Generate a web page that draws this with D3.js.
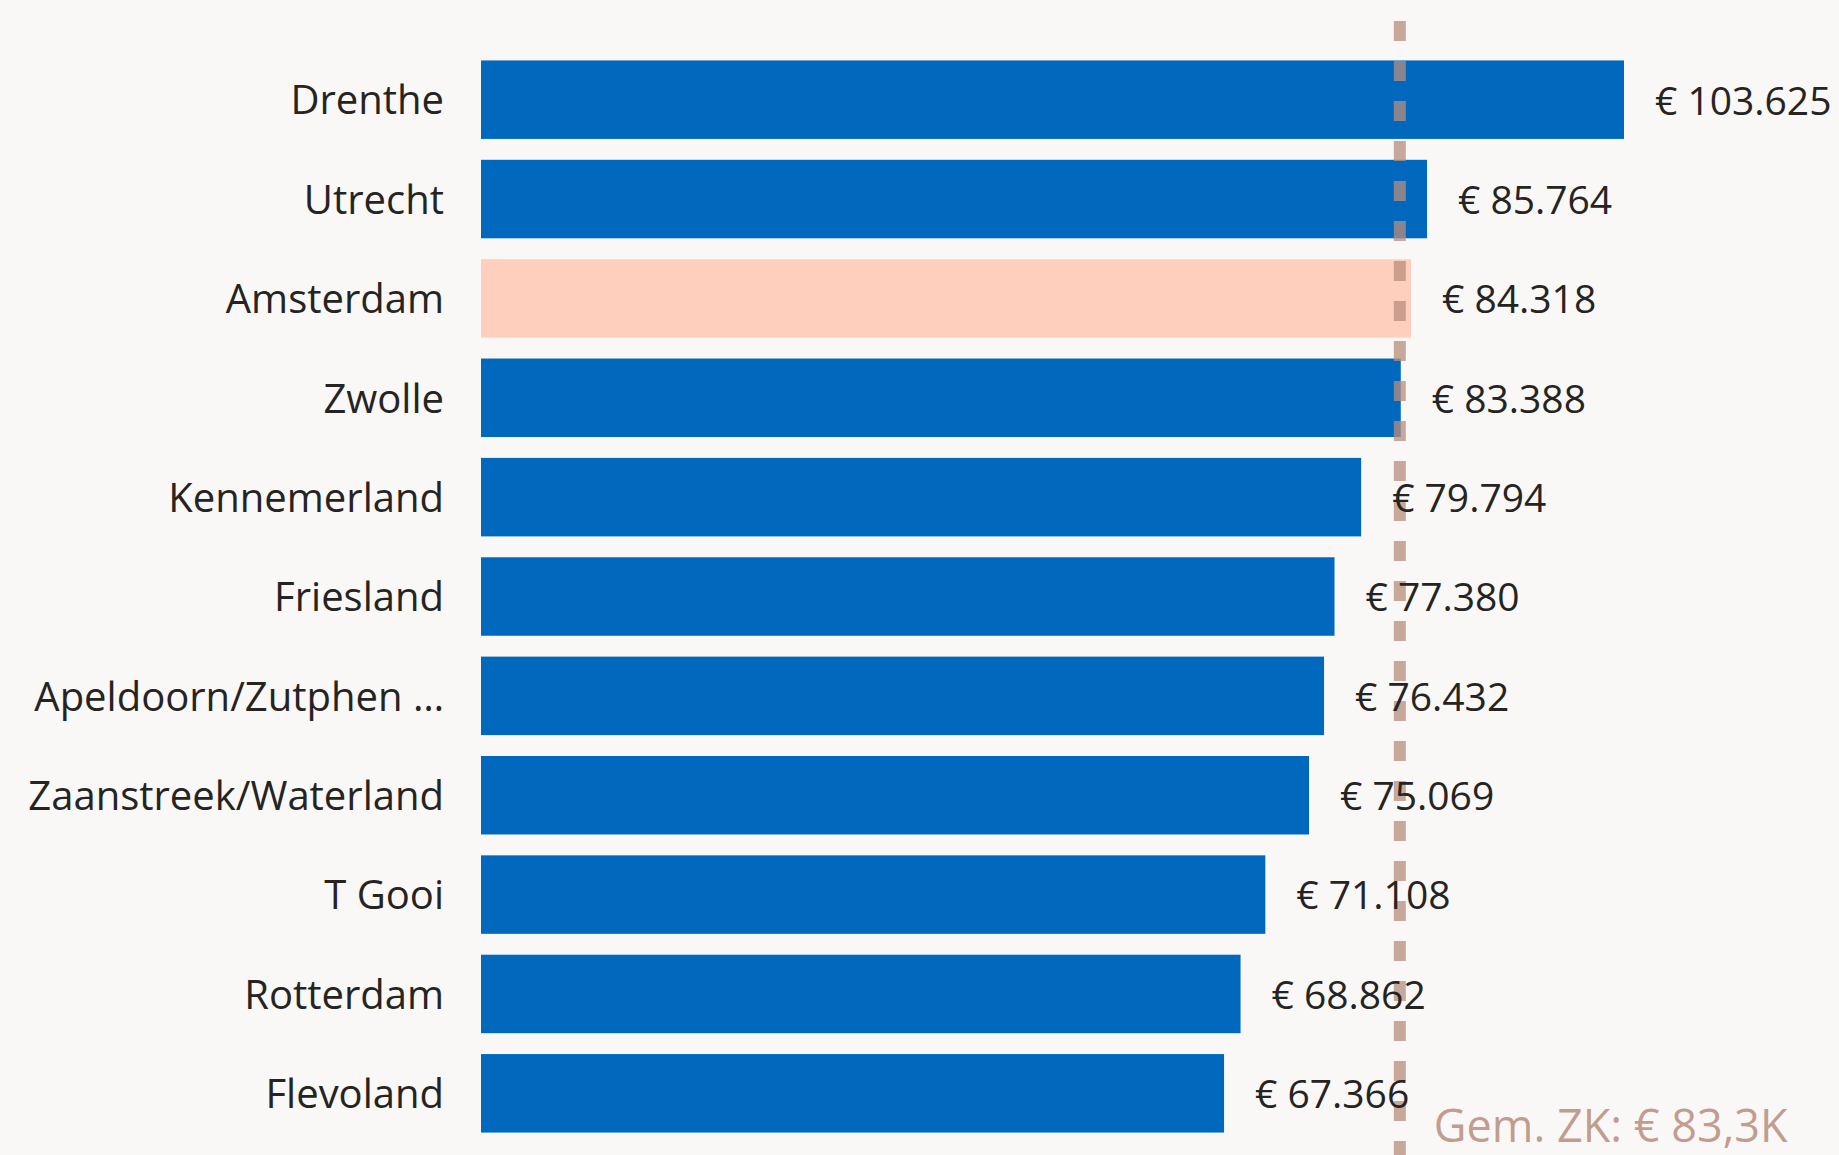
<!DOCTYPE html>
<html>
<head>
<meta charset="utf-8">
<script src="https://cdn.jsdelivr.net/npm/d3@7"></script>
<style>
  body { margin: 0; background: #f9f8f6; }
  svg { display: block; }
</style>
</head>
<body>
<script>
  const regios = ['Drenthe', 'Utrecht', 'Amsterdam', 'Zwolle', 'Kennemerland', 'Friesland',
    'Apeldoorn/Zutphen …', 'Zaanstreek/Waterland', 'T Gooi', 'Rotterdam', 'Flevoland'];
  const bedragen = [103625, 85764, 84318, 83388, 79794, 77380, 76432, 75069, 71108, 68862, 67366];
  const gemiddelde = 83300;
  const gemLabel = 'Gem. ZK';
  const highlight = 'Amsterdam';

  const WIDTH = 1839;
  const HEIGHT = 1155;

  const nl = d3.formatLocale({ decimal: ',', thousands: '.', grouping: [3], currency: ['€ ', ''] });
  const fmtEuro = nl.format('$,.0f');
  const fmtK = d => nl.format('$,.1f')(d / 1000) + 'K';

  const data = regios.map((r, i) => ({ regio: r, bedrag: bedragen[i] }));

  const svg = d3.select('body').append('svg')
    .attr('width', WIDTH)
    .attr('height', HEIGHT)
    .style('background-color', '#f9f8f6')
    .style('font-family', '"Open Sans", sans-serif');

  const x = d3.scaleLinear()
    .domain([0, 103625])
    .range([481, 1624]);

  const y = d3.scaleBand()
    .domain(regios)
    .range([50, 1143])
    .paddingInner(0.21)
    .paddingOuter(0.105);

  svg.append('g')
    .selectAll('rect')
    .data(data)
    .enter()
    .append('rect')
    .attr('x', x(0))
    .attr('y', d => y(d.regio))
    .attr('width', d => x(d.bedrag) - x(0))
    .attr('height', y.bandwidth())
    .attr('fill', d => d.regio === highlight ? '#ffcfbd' : '#0069be');

  // categorie labels
  svg.append('g')
    .selectAll('text')
    .data(data)
    .enter()
    .append('text')
    .attr('x', x(0) - 37)
    .attr('y', d => y(d.regio) + y.bandwidth() / 2)
    .attr('dy', '0.37em')
    .attr('text-anchor', 'end')
    .attr('font-size', 40)
    .attr('fill', '#252423')
    .text(d => d.regio);

  // gemiddelde lijn
  svg.append('line')
    .attr('x1', x(gemiddelde))
    .attr('x2', x(gemiddelde))
    .attr('y1', 21)
    .attr('y2', HEIGHT)
    .attr('stroke', 'rgb(184,141,125)')
    .attr('stroke-opacity', 0.75)
    .attr('stroke-width', 12)
    .attr('stroke-dasharray', '20 20');

  // waarde labels
  svg.append('g')
    .selectAll('text')
    .data(data)
    .enter()
    .append('text')
    .attr('x', d => x(d.bedrag) + 31)
    .attr('y', d => y(d.regio) + y.bandwidth() / 2)
    .attr('dy', '0.38em')
    .attr('font-size', 39)
    .attr('fill', '#252423')
    .text(d => fmtEuro(d.bedrag));

  svg.append('text')
    .attr('x', x(gemiddelde) + 34)
    .attr('y', 1142)
    .attr('font-size', 45)
    .attr('fill', 'rgb(184,141,125)')
    .attr('fill-opacity', 0.85)
    .text(`${gemLabel}: ${fmtK(gemiddelde)}`);
</script>
</body>
</html>
